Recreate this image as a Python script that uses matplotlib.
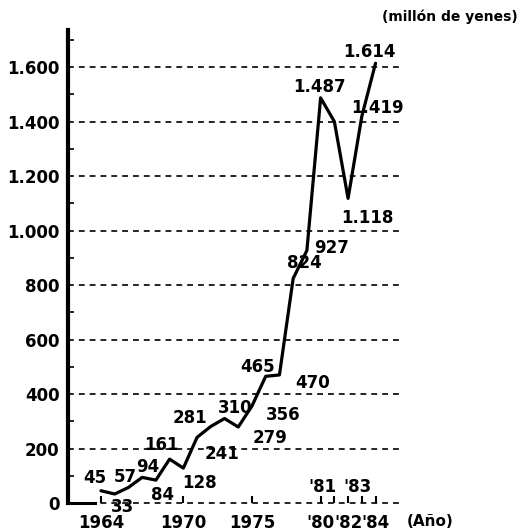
import matplotlib
matplotlib.use("Agg")
import matplotlib.pyplot as plt
from matplotlib.ticker import FixedLocator, FuncFormatter, MultipleLocator

# ---- data ----
years = [1964, 1965, 1966, 1967, 1968, 1969, 1970, 1971, 1972, 1973, 1974,
         1975, 1976, 1977, 1978, 1979, 1980, 1981, 1982, 1983, 1984]
values = [45, 33, 57, 94, 84, 161, 128, 241, 281, 310, 279,
          356, 465, 470, 824, 927, 1487, 1400, 1118, 1419, 1614]
value_labels = ["45", "33", "57", "94", "84", "161", "128", "241", "281", "310", "279",
                "356", "465", "470", "824", "927", "1.487", None, "1.118", "1.419", "1.614"]
xtick_years = [1964, 1970, 1975, 1980, 1981, 1982, 1983, 1984]
xtick_labels = ["1964", "1970", "1975", "'80", "", "'82", "", "'84"]
inner_year_labels = {1981: "'81", 1983: "'83"}
yticks = [0, 200, 400, 600, 800, 1000, 1200, 1400, 1600]

# ---- layout (label placement in data coords) ----
label_pos = {
    "45": (1963.56, 92), "33": (1965.6, -15), "57": (1965.75, 95), "94": (1967.42, 132),
    "84": (1968.5, 29), "161": (1968.44, 213), "128": (1971.2, 73), "241": (1972.8, 180),
    "281": (1970.47, 312), "310": (1973.75, 349), "279": (1976.3, 239), "356": (1977.24, 323),
    "465": (1975.42, 499), "470": (1979.4, 440), "824": (1978.84, 881), "927": (1980.8, 936),
    "1.487": (1979.93, 1527), "1.118": (1983.42, 1046), "1.419": (1984.15, 1450),
    "1.614": (1983.56, 1655),
}
inner_pos = {1981: (1980.15, 59), 1983: (1982.7, 59)}

FS = 12
fig = plt.figure(figsize=(5.22, 5.32), dpi=100)
ax = fig.add_axes([68 / 522, 1 - 503 / 532, (403 - 68) / 522, (503 - 30) / 532])
ax.set_xlim(1961.6, 1986.0)
ax.set_ylim(0, 1736)

ax.plot(years, values, color="black", lw=2.3, solid_capstyle="round",
        solid_joinstyle="round", clip_on=False, zorder=3)

for lab in value_labels:
    if lab is None:
        continue
    x, y = label_pos[lab]
    ax.text(x, y, lab, ha="center", va="center", fontsize=FS, fontweight="bold",
            clip_on=False, zorder=4)
for yr, lab in inner_year_labels.items():
    x, y = inner_pos[yr]
    ax.text(x, y, lab, ha="center", va="center", fontsize=FS, fontweight="bold")

# axes styling
for s in ["top", "right", "bottom"]:
    ax.spines[s].set_visible(False)
ax.spines["left"].set_linewidth(3)

ax.yaxis.set_major_locator(FixedLocator(yticks))
ax.yaxis.set_minor_locator(MultipleLocator(100))
ax.yaxis.set_major_formatter(FuncFormatter(lambda v, p: f"{int(v):,}".replace(",", ".")))
ax.tick_params(axis="y", which="major", length=0, pad=6, labelsize=FS)
ax.tick_params(axis="y", which="minor", direction="in", length=4, width=1.2)
for t in ax.get_yticklabels():
    t.set_fontweight("bold")

ax.xaxis.set_major_locator(FixedLocator(xtick_years))
ax.set_xticklabels(xtick_labels, fontsize=FS, fontweight="bold")
ax.tick_params(axis="x", direction="in", length=5, width=1.5, pad=8)

ax.grid(axis="y", which="major", color="black", linestyle=(0, (3.5, 3)), lw=1.2)
for gl in ax.get_ygridlines():
    gl.set_clip_on(False)
ax.axhline(0, xmin=0, xmax=0.08, color="black", lw=2.2, zorder=2, clip_on=False)

fig.text(518 / 522, 1 - 17 / 532, "(millón de yenes)", ha="right", va="center",
         fontsize=10, fontweight="bold")
fig.text(430 / 522, 1 - 522 / 532, "(Año)", ha="center", va="center",
         fontsize=11, fontweight="bold")

fig.savefig("out.png", dpi=100)
